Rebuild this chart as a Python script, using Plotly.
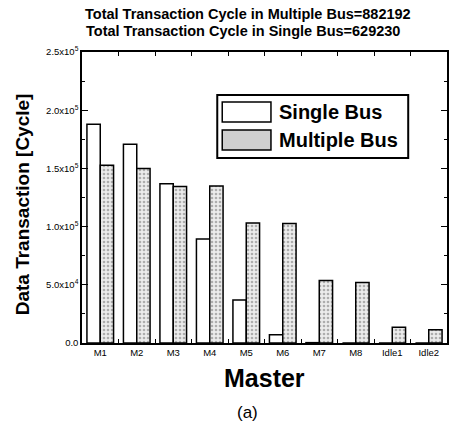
import plotly.graph_objects as go

categories = ["M1", "M2", "M3", "M4", "M5", "M6", "M7", "M8", "Idle1", "Idle2"]
single_bus = [188000, 170700, 136800, 89400, 37000, 7000, 300, 0, 0, 0]
multiple_bus = [152600, 150000, 134500, 134800, 103200, 102600, 53700, 52000, 13500, 11300]
y_tickvals = [0, 50000, 100000, 150000, 200000, 250000]
y_ticktext = ["0.0", "5.0x10<sup>4</sup>", "1.0x10<sup>5</sup>", "1.5x10<sup>5</sup>",
              "2.0x10<sup>5</sup>", "2.5x10<sup>5</sup>"]
title_lines = ["Total Transaction Cycle in Multiple Bus=882192",
               "Total Transaction Cycle in Single Bus=629230"]

FONT = "Liberation Sans, Arial, sans-serif"
W, H = 454, 439
L, R, T, B = 82, 5, 52, 96
pw, ph = W - L - R, H - T - B

def px(x):
    return (x - L) / pw

def py(y):
    return 1 - (y - T) / ph

fig = go.Figure()
fig.add_trace(go.Bar(
    x=categories, y=single_bus, name="Single Bus",
    marker=dict(color="white", line=dict(color="black", width=1.5)),
))
fig.add_trace(go.Bar(
    x=categories, y=multiple_bus, name="Multiple Bus",
    marker=dict(color="#e8e8e8", line=dict(color="black", width=1.5),
                pattern=dict(shape=".", fgcolor="#6e6e6e", bgcolor="#ececec",
                             size=4, solidity=0.35)),
))

fig.update_layout(
    width=W, height=H,
    margin=dict(l=L, r=R, t=T, b=B),
    paper_bgcolor="white", plot_bgcolor="white",
    barmode="group", bargap=0.27, bargroupgap=0.0,
    showlegend=False,
    font=dict(family=FONT, color="black"),
)

fig.update_xaxes(
    type="category", showgrid=False, showline=True, linecolor="black", linewidth=1.5,
    mirror="ticks", ticks="inside", ticklen=4, tickcolor="black", tickwidth=1,
    tickson="boundaries",
    tickfont=dict(size=9.5, family=FONT, color="black"),
)
fig.update_yaxes(
    range=[0, 250000], showgrid=False, zeroline=False, showline=True,
    linecolor="black", linewidth=1.5, mirror="ticks",
    ticks="inside", ticklen=6, tickcolor="black", tickwidth=1,
    tickvals=y_tickvals, ticktext=y_ticktext,
    tickfont=dict(size=9.5, family=FONT, color="black"),
    minor=dict(ticks="inside", ticklen=3, tickcolor="black", dtick=25000, tick0=0),
)

annotations = [
    dict(text="<b>" + title_lines[0] + "</b>", x=px(249), y=py(14),
         xref="paper", yref="paper", showarrow=False, xanchor="center", yanchor="middle",
         font=dict(size=14.5, family=FONT)),
    dict(text="<b>" + title_lines[1] + "</b>", x=px(244), y=py(31),
         xref="paper", yref="paper", showarrow=False, xanchor="center", yanchor="middle",
         font=dict(size=14.5, family=FONT)),
    dict(text="<b>Data Transaction [Cycle]</b>", x=px(22), y=py(204), textangle=-90,
         xref="paper", yref="paper", showarrow=False, xanchor="center", yanchor="middle",
         font=dict(size=19, family=FONT)),
    dict(text="<b>Master</b>", x=px(265), y=py(378),
         xref="paper", yref="paper", showarrow=False, xanchor="center", yanchor="middle",
         font=dict(size=25, family=FONT)),
    dict(text="(a)", x=px(248), y=py(412),
         xref="paper", yref="paper", showarrow=False, xanchor="center", yanchor="middle",
         font=dict(size=17, family=FONT)),
    dict(text="<b>Single Bus</b>", x=px(278), y=py(112),
         xref="paper", yref="paper", showarrow=False, xanchor="left", yanchor="middle",
         font=dict(size=20, family=FONT)),
    dict(text="<b>Multiple Bus</b>", x=px(278), y=py(140),
         xref="paper", yref="paper", showarrow=False, xanchor="left", yanchor="middle",
         font=dict(size=20, family=FONT)),
]
fig.update_layout(annotations=annotations)

shapes = [
    dict(type="rect", xref="paper", yref="paper", x0=px(218), x1=px(410), y0=py(158), y1=py(95),
         line=dict(color="black", width=2), fillcolor="white", layer="above"),
    dict(type="rect", xref="paper", yref="paper", x0=px(223), x1=px(272), y0=py(122), y1=py(102),
         line=dict(color="black", width=1.5), fillcolor="white", layer="above"),
    dict(type="rect", xref="paper", yref="paper", x0=px(223), x1=px(272), y0=py(150), y1=py(130),
         line=dict(color="black", width=1.5), fillcolor="#cfcfcf", layer="above"),
]
fig.update_layout(shapes=shapes)

fig.write_html("out.html")
